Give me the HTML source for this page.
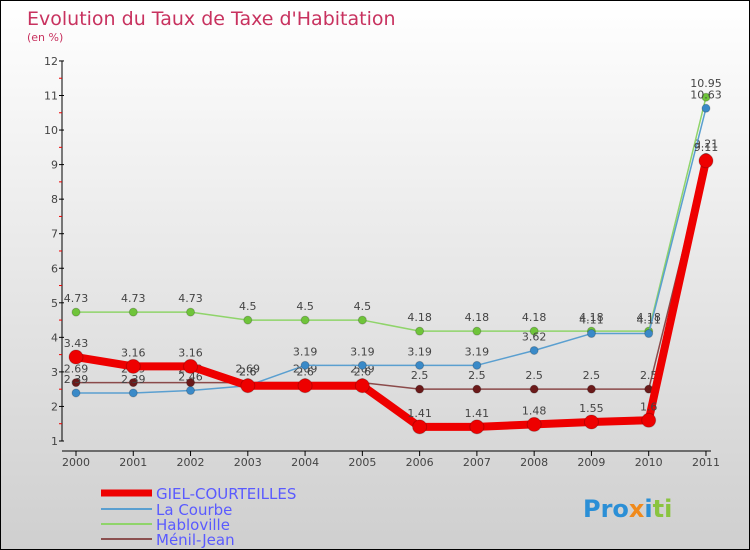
<!DOCTYPE html>
<html><head><meta charset="utf-8">
<style>
body{margin:0;}
#c{position:relative;width:748px;height:548px;border:1px solid #000;background:linear-gradient(#fff,#cfcfcf);font-family:"DejaVu Sans","Liberation Sans",sans-serif;overflow:hidden}
svg{position:absolute;left:0;top:0}
</style></head><body>
<div id="c">
<svg id="s" width="748" height="548">
<text x="26" y="24" font-size="19" fill="#c8325f">Evolution du Taux de Taxe d'Habitation</text>
<text x="26" y="40" font-size="11" fill="#c8325f">(en %)</text>
<g id="ax"></g><g id="plot"></g>
<g>
<line x1="100" y1="492" x2="151" y2="492" stroke="#e00" stroke-width="7"/>
<text x="155" y="498" font-size="15" fill="#5a5aff">GIEL-COURTEILLES</text>
<line x1="100" y1="508" x2="151" y2="508" stroke="#5a9fd0" stroke-width="2"/>
<text x="155" y="514" font-size="15" fill="#5a5aff">La Courbe</text>
<line x1="100" y1="523" x2="151" y2="523" stroke="#8fd46a" stroke-width="2"/>
<text x="155" y="529" font-size="15" fill="#5a5aff">Habloville</text>
<line x1="100" y1="538" x2="151" y2="538" stroke="#8b5050" stroke-width="2"/>
<text x="155" y="544" font-size="15" fill="#5a5aff">Ménil-Jean</text>
</g>
<text x="582" y="516" font-size="24" font-weight="bold"><tspan fill="#2b8fd6">Pro</tspan><tspan fill="#f08a1c">x</tspan><tspan fill="#2b8fd6">i</tspan><tspan fill="#8ac43f">ti</tspan></text>
</svg>
</div>
<script>
const years=["2000","2001","2002","2003","2004","2005","2006","2007","2008","2009","2010","2011"];
const yTicks=[1,2,3,4,5,6,7,8,9,10,11,12];
const giel=[3.43,3.16,3.16,2.6,2.6,2.6,1.41,1.41,1.48,1.55,1.6,9.11];
const laCourbe=[2.39,2.39,2.46,2.6,3.19,3.19,3.19,3.19,3.62,4.11,4.11,10.63];
const habloville=[4.73,4.73,4.73,4.5,4.5,4.5,4.18,4.18,4.18,4.18,4.18,10.95];
const menil=[2.69,2.69,2.69,2.69,2.69,2.69,2.5,2.5,2.5,2.5,2.5,9.21];
const NS="http://www.w3.org/2000/svg";
const X=i=>75+i*57.27, Y=v=>440-(v-1)*34.55;
function mk(t,a,p){const e=document.createElementNS(NS,t);for(const k in a)e.setAttribute(k,a[k]);p.appendChild(e);return e;}
const ax=document.getElementById('ax'),pl=document.getElementById('plot');
let l=mk('line',{x1:61,y1:60,x2:61,y2:440,stroke:'#000'},ax);


l=mk('line',{x1:61,y1:450,x2:710,y2:450,stroke:'#000'},ax);


yTicks.forEach(v=>{mk('line',{x1:58,y1:Y(v),x2:63,y2:Y(v),stroke:'#000'},ax);
 if(v<12)mk('line',{x1:58,y1:Y(v+0.5),x2:61,y2:Y(v+0.5),stroke:'#e00'},ax);
 const t=mk('text',{x:57,y:Y(v)+4,'font-size':11,fill:'#444','text-anchor':'end'},ax);t.textContent=v;
 
 });
years.forEach((y,i)=>{mk('line',{x1:X(i),y1:450,x2:X(i),y2:455,stroke:'#000'},ax);
 const t=mk('text',{x:X(i),y:465,'font-size':11,fill:'#444','text-anchor':'middle'},ax);t.textContent=y;
 
 });
function series(d,col,w,r,name,pc){
 const g=mk('g',{},pl);
 
 
 mk('polyline',{points:d.map((v,i)=>X(i)+','+Y(v)).join(' '),fill:'none',stroke:col,'stroke-width':w,'stroke-linejoin':'round'},g);
 d.forEach((v,i)=>{const c=mk('circle',{cx:X(i),cy:Y(v),r:r,fill:pc,stroke:'rgba(0,0,0,0.2)'},g);
 
 
 const t=mk('text',{x:X(i),y:Y(v)-10,'font-size':11,fill:'#444','text-anchor':'middle'},g);t.textContent=v;});
}
series(menil,'#8b4a4a',1.5,4,'menil-jean','#6b1a1a');
series(habloville,'#8fd46a',1.5,4,'habloville','#6fc43a');
series(laCourbe,'#5a9fd0',1.5,4,'la-courbe','#3a8ac8');
series(giel,'#e00',8,7,'giel','#e00');
</script>
</body></html>
